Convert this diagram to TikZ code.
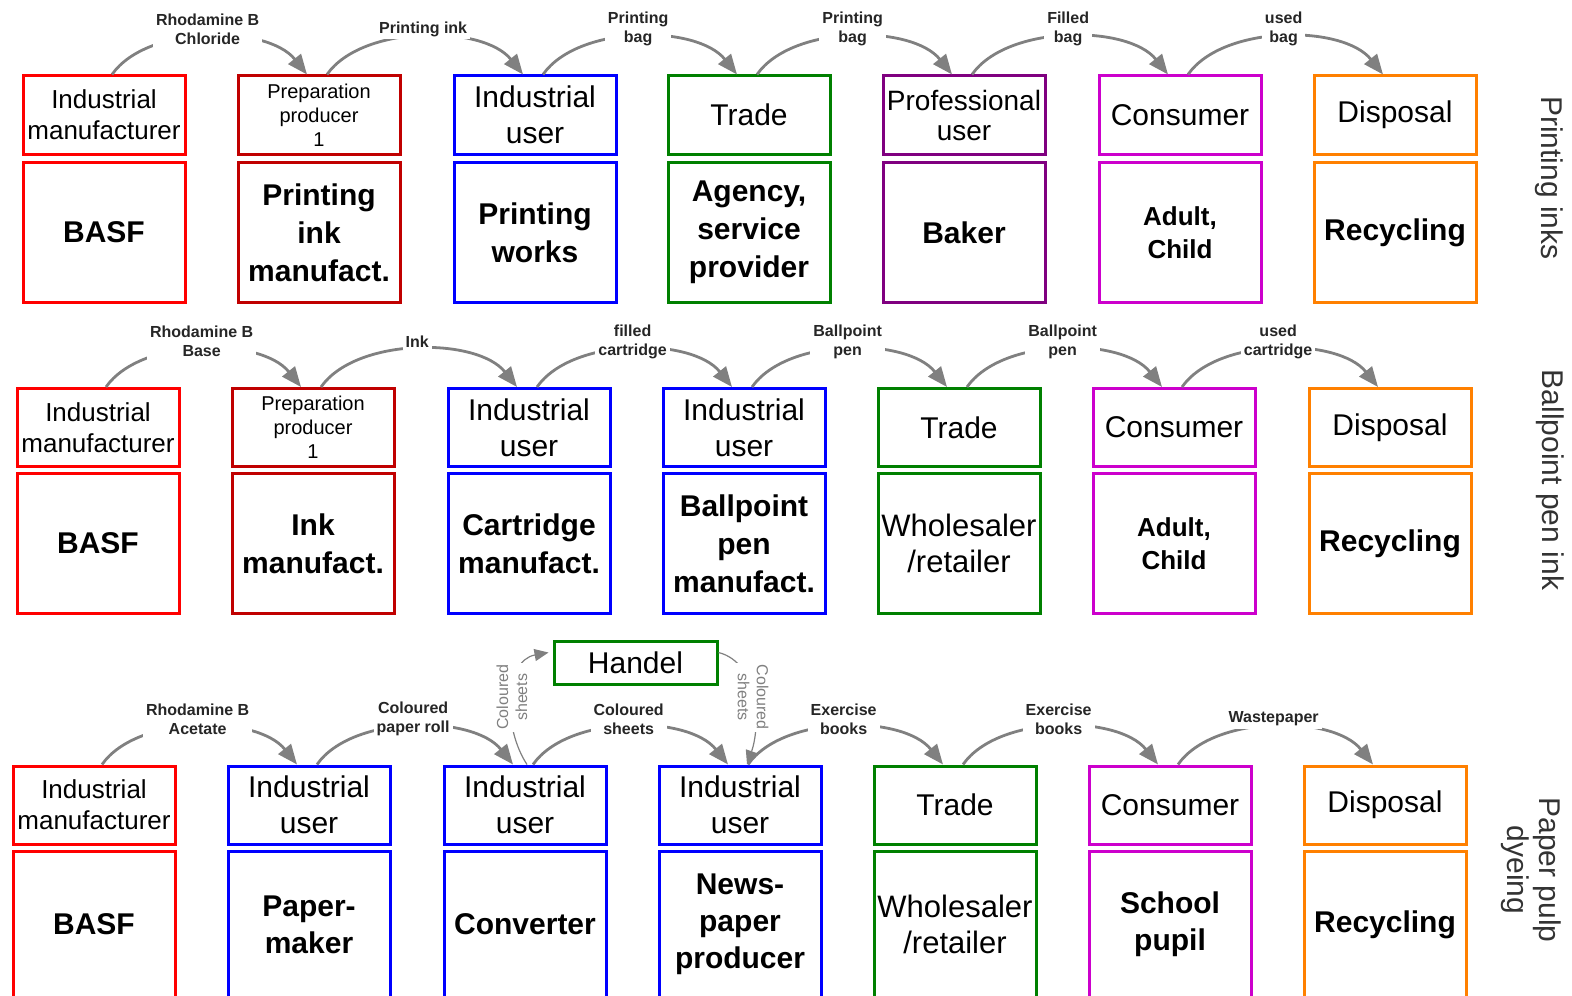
\documentclass[tikz,border=0pt]{standalone}
\usepackage{fontspec}
\setmainfont{Liberation Sans}
\usetikzlibrary{arrows.meta}
\definecolor{cred}{RGB}{255,0,0}
\definecolor{cdred}{RGB}{192,0,0}
\definecolor{cblue}{RGB}{0,0,255}
\definecolor{cgreen}{RGB}{0,128,0}
\definecolor{cpurple}{RGB}{128,0,128}
\definecolor{cmag}{RGB}{204,0,204}
\definecolor{corange}{RGB}{255,128,0}
\definecolor{agray}{RGB}{128,128,128}
\tikzset{
 box/.style={draw, line width=1.5pt, minimum width=81pt, align=center, inner sep=1pt},
 rolebox/.style={box, minimum height=39pt, font=\fontsize{15}{18}\selectfont},
 namebox/.style={box, minimum height=70pt, font=\fontsize{15}{19}\selectfont\bfseries},
 lastbox/.style={box, minimum height=73.5pt, font=\fontsize{15}{18.5}\selectfont\bfseries},
 mfr/.style={font=\fontsize{13}{15.5}\selectfont},
 prep/.style={font=\fontsize{10}{12}\selectfont},
 prof/.style={font=\fontsize{14}{15}\selectfont},
 smallb/.style={font=\fontsize{13}{16.5}\selectfont\bfseries},
 plainb/.style={font=\fontsize{15.5}{18}\selectfont},
 flow/.style={draw=agray, line width=1.4pt, -{Triangle[length=10pt,width=8pt]}},
 flowlbl/.style={fill=white, inner sep=1.5pt, align=center, font=\fontsize{8}{9.5}\selectfont\bfseries, text=black!85},
 thinflow/.style={draw=agray, line width=0.6pt, -{Triangle[length=7pt,width=6pt]}},
 thinlbl/.style={fill=white, inner sep=1pt, align=center, font=\fontsize{8}{9.5}\selectfont, text=agray},
 side/.style={rotate=-90, align=center, font=\fontsize{15}{16}\selectfont, text=black!80},
}
\begin{document}
\begin{tikzpicture}[x=0.5pt,y=-0.5pt]
\useasboundingbox (0,0) rectangle (1572,995);
% ---------- Row 1 ----------
\node[rolebox,mfr,draw=cred] (r1t1) at (104,115) {Industrial\\manufacturer};
\node[rolebox,prep,draw=cdred] (r1t2) at (319,115) {Preparation\\producer\\1};
\node[rolebox,draw=cblue] (r1t3) at (535,115) {Industrial\\user};
\node[rolebox,draw=cgreen] (r1t4) at (749,115) {Trade};
\node[rolebox,prof,draw=cpurple] (r1t5) at (964,115) {Professional\\user};
\node[rolebox,draw=cmag] (r1t6) at (1180,115) {Consumer};
\node[rolebox,draw=corange] (r1t7) at (1395,115) {Disposal};
\node[namebox,draw=cred] (r1b1) at (104,232.5) {BASF};
\node[namebox,draw=cdred] (r1b2) at (319,232.5) {Printing\\ink\\manufact.};
\node[namebox,draw=cblue] (r1b3) at (535,232.5) {Printing\\works};
\node[namebox,draw=cgreen] (r1b4) at (749,232.5) {Agency,\\service\\provider};
\node[namebox,draw=cpurple] (r1b5) at (964,232.5) {Baker};
\node[namebox,smallb,draw=cmag] (r1b6) at (1180,232.5) {Adult,\\Child};
\node[namebox,draw=corange] (r1b7) at (1395,232.5) {Recycling};
% ---------- Row 2 ----------
\node[rolebox,mfr,draw=cred] (r2t1) at (98,427.5) {Industrial\\manufacturer};
\node[rolebox,prep,draw=cdred] (r2t2) at (313,427.5) {Preparation\\producer\\1};
\node[rolebox,draw=cblue] (r2t3) at (529,427.5) {Industrial\\user};
\node[rolebox,draw=cblue] (r2t4) at (744,427.5) {Industrial\\user};
\node[rolebox,draw=cgreen] (r2t5) at (959,427.5) {Trade};
\node[rolebox,draw=cmag] (r2t6) at (1174,427.5) {Consumer};
\node[rolebox,draw=corange] (r2t7) at (1390,427.5) {Disposal};
\node[namebox,draw=cred] (r2b1) at (98,543.5) {BASF};
\node[namebox,draw=cdred] (r2b2) at (313,543.5) {Ink\\manufact.};
\node[namebox,draw=cblue] (r2b3) at (529,543.5) {Cartridge\\manufact.};
\node[namebox,draw=cblue] (r2b4) at (744,543.5) {Ballpoint\\pen\\manufact.};
\node[namebox,plainb,draw=cgreen] (r2b5) at (959,543.5) {Wholesaler\\/retailer};
\node[namebox,smallb,draw=cmag] (r2b6) at (1174,543.5) {Adult,\\Child};
\node[namebox,draw=corange] (r2b7) at (1390,543.5) {Recycling};
% ---------- Row 3 ----------
\node[rolebox,mfr,draw=cred] (r3t1) at (94,805) {Industrial\\manufacturer};
\node[rolebox,draw=cblue] (r3t2) at (309,805) {Industrial\\user};
\node[rolebox,draw=cblue] (r3t3) at (525,805) {Industrial\\user};
\node[rolebox,draw=cblue] (r3t4) at (740,805) {Industrial\\user};
\node[rolebox,draw=cgreen] (r3t5) at (955,805) {Trade};
\node[rolebox,draw=cmag] (r3t6) at (1170,805) {Consumer};
\node[rolebox,draw=corange] (r3t7) at (1385,805) {Disposal};
\node[lastbox,draw=cred] (r3b1) at (94,924.5) {BASF};
\node[lastbox,draw=cblue] (r3b2) at (309,924.5) {Paper-\\maker};
\node[lastbox,draw=cblue] (r3b3) at (525,924.5) {Converter};
\node[lastbox,draw=cblue] (r3b4) at (740,924.5) {News-\\paper\\producer};
\node[lastbox,plainb,draw=cgreen] (r3b5) at (955,924.5) {Wholesaler\\/retailer};
\node[lastbox,draw=cmag] (r3b6) at (1170,924.5) {School\\pupil};
\node[lastbox,draw=corange] (r3b7) at (1385,924.5) {Recycling};
% Handel
\node[box,draw=cgreen,minimum width=81.5pt,minimum height=21.5pt,font=\fontsize{15}{18}\selectfont] (hd) at (635.5,662.5) {Handel};
% ---------- Side labels ----------
\node[side] (s1) at (1549,178) {Printing inks};
\node[side] (s2) at (1550,480) {Ballpoint pen ink};
\node[side] (s3) at (1531,870) {Paper pulp\\dyeing};
% ---------- Flow arrows ----------
\foreach \r/\la/\lb/\lc/\ld/\le/\lf in {
  1/{Rhodamine B\\Chloride}/{Printing ink}/{Printing\\bag}/{Printing\\bag}/{Filled\\bag}/{used\\bag},
  2/{Rhodamine B\\Base}/{Ink}/{filled\\cartridge}/{Ballpoint\\pen}/{Ballpoint\\pen}/{used\\cartridge},
  3/{Rhodamine B\\Acetate}/{Coloured\\paper roll}/{Coloured\\sheets}/{Exercise\\books}/{Exercise\\books}/{Wastepaper}}{
  \draw[flow] ([xshift=4pt]r\r t1.north) .. controls +(35,-50) and +(-40,-50) .. node[flowlbl,pos=0.5,yshift=4pt]{\la} ([xshift=-6pt]r\r t2.north);
  \draw[flow] ([xshift=4pt]r\r t2.north) .. controls +(35,-50) and +(-40,-50) .. node[flowlbl,pos=0.5,yshift=4pt]{\lb} ([xshift=-6pt]r\r t3.north);
  \draw[flow] ([xshift=4pt]r\r t3.north) .. controls +(35,-50) and +(-40,-50) .. node[flowlbl,pos=0.5,yshift=4pt]{\lc} ([xshift=-6pt]r\r t4.north);
  \draw[flow] ([xshift=4pt]r\r t4.north) .. controls +(35,-50) and +(-40,-50) .. node[flowlbl,pos=0.5,yshift=4pt]{\ld} ([xshift=-6pt]r\r t5.north);
  \draw[flow] ([xshift=4pt]r\r t5.north) .. controls +(35,-50) and +(-40,-50) .. node[flowlbl,pos=0.5,yshift=4pt]{\le} ([xshift=-6pt]r\r t6.north);
  \draw[flow] ([xshift=4pt]r\r t6.north) .. controls +(35,-50) and +(-40,-50) .. node[flowlbl,pos=0.5,yshift=4pt]{\lf} ([xshift=-6pt]r\r t7.north);
}
% ---------- Handel arrows ----------
\draw[thinflow] ([xshift=1pt]r3t3.north) .. controls +(-25,-38) and +(-44,8) .. node[thinlbl,pos=0.5,rotate=90]{Coloured\\sheets} ([yshift=5pt,xshift=-2pt]hd.west);
\draw[thinflow] ([yshift=5pt]hd.east) .. controls +(40,10) and +(14,-40) .. node[thinlbl,pos=0.5,rotate=-90]{Coloured\\sheets} ([xshift=3.5pt]r3t4.north);
\end{tikzpicture}
\end{document}
